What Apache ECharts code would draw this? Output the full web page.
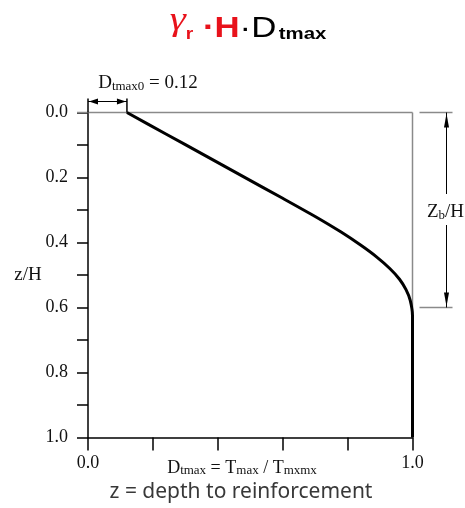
<!DOCTYPE html>
<html>
<head>
<meta charset="utf-8">
<script src="https://cdn.jsdelivr.net/npm/echarts@6/dist/echarts.min.js"></script>
<style>
  html, body { margin: 0; padding: 0; background: #fff; }
  #main { width: 465px; height: 508px; }
</style>
</head>
<body>
<div id="main"></div>
<script>
(function(){

	// curve: Dtmax against z/H
	var dtmaxValues = [0.12, 0.24, 0.36, 0.48, 0.60, 0.70, 0.78, 0.84, 0.89, 0.93, 0.96, 0.98, 0.993, 1.0, 1.0, 1.0];
	var depthValues = [0, 0.066, 0.132, 0.198, 0.264, 0.320, 0.368, 0.408, 0.445, 0.480, 0.513, 0.545, 0.578, 0.625, 0.66, 1.0];

	var xLabels = ["0.0", "1.0"];          // only the ends carry a label
	var yLabelStep = 0.2;                   // ticks every 0.1, labels every 0.2
	var dtmax0 = 0.12;
	var zbRatio = 0.6;

	var RED = "#e8121b";
	var SERIF = "Liberation Serif";
	var SANS = "Liberation Sans";
	var GREY = "#8a8a8a";

	var curve = [];
	for (var i = 0; i < depthValues.length; i++){
		curve.push([dtmaxValues[i], depthValues[i]]);
	}

	var chart = echarts.init(document.getElementById("main"));

	var option = {
		animation: false,
		backgroundColor: "#fff",
		grid: { left: 88, right: 52.5, top: 112.5, bottom: 70.5 },
		xAxis: {
			type: "value", min: 0, max: 1, interval: 0.2,
			position: "bottom",
			splitLine: { show: false },
			axisLine: { onZero: false, lineStyle: { color: "#000", width: 1.5 } },
			axisTick: { length: 13, lineStyle: { color: "#000", width: 1.5 } },
			axisLabel: {
				margin: 17, fontFamily: SERIF, fontSize: 18, color: "#111",
				formatter: function(v){
					if (v === 0) return xLabels[0];
					if (v === 1) return xLabels[1];
					return "";
				}
			}
		},
		yAxis: {
			type: "value", inverse: true, min: 0, max: 1, interval: 0.1,
			splitLine: { show: false },
			axisLine: { onZero: false, lineStyle: { color: "#000", width: 1.5 } },
			axisTick: { length: 11, lineStyle: { color: "#000", width: 1.5 } },
			axisLabel: {
				margin: 20, fontFamily: SERIF, fontSize: 18, color: "#111",
				formatter: function(v){
					var k = Math.round(v * 10);
					if (k % Math.round(yLabelStep * 10) !== 0) return "";
					return v.toFixed(1);
				}
			}
		},
		series: [{
			type: "line",
			data: curve,
			smooth: 0.25,
			symbol: "none",
			z: 3,
			lineStyle: { color: "#000", width: 3 }
		}]
	};
	chart.setOption(option);

	var px = function(x, z){
		return chart.convertToPixel({ xAxisIndex: 0, yAxisIndex: 0 }, [x, z]);
	};

	var p00 = px(0, 0);
	var p10 = px(1, 0);
	var pD0 = px(dtmax0, 0);
	var pZb = px(1, zbRatio);
	var x0 = p00[0], y0 = p00[1], x1 = p10[0], xd0 = pD0[0], yZb = pZb[1];

	var line = function(a, b, c, d, color, width, z){
		return {
			type: "line", z: z || 1, silent: true,
			shape: { x1: a, y1: b, x2: c, y2: d },
			style: { stroke: color, lineWidth: width }
		};
	};
	var tri = function(pts){
		return { type: "polygon", z: 2, silent: true, shape: { points: pts }, style: { fill: "#000" } };
	};

	var graphics = [];

	// grey frame on the top and right edge, down to Zb
	graphics.push(line(x0 - 11, y0, x1, y0, GREY, 1.5, 1));
	graphics.push(line(x1, y0, x1, yZb, GREY, 1.5, 1));

	// Dtmax0 dimension
	var ya = y0 - 11;
	graphics.push(line(x0, y0 - 14, x0, y0, "#000", 1.5, 2));
	graphics.push(line(xd0, y0 - 14, xd0, y0, "#000", 1.5, 2));
	graphics.push(line(x0, ya, xd0, ya, "#000", 1, 2));
	graphics.push(tri([[x0 + 1, ya], [x0 + 10, ya - 3], [x0 + 10, ya + 3]]));
	graphics.push(tri([[xd0 - 1, ya], [xd0 - 10, ya - 3], [xd0 - 10, ya + 3]]));
	graphics.push({
		type: "text", z: 2, silent: true,
		style: {
			x: 148, y: 78.5, align: "center", verticalAlign: "middle",
			text: "{m|D}{s|tmax0}{m| = 0.12}",
			rich: {
				m: { fontFamily: SERIF, fontSize: 19, lineHeight: 29, verticalAlign: "bottom", fill: "#111" },
				s: { fontFamily: SERIF, fontSize: 13, lineHeight: 13, verticalAlign: "bottom", fill: "#111" }
			}
		}
	});

	// Zb/H dimension
	var xz = x1 + 34;
	graphics.push(line(x1 + 7, y0, x1 + 40, y0, GREY, 1.5, 1));
	graphics.push(line(x1 + 7, yZb, x1 + 40, yZb, GREY, 1.5, 1));
	graphics.push(line(xz, y0, xz, 194, "#000", 1, 2));
	graphics.push(line(xz, 225, xz, yZb, "#000", 1, 2));
	graphics.push(tri([[xz, y0 + 1], [xz - 2.5, y0 + 15], [xz + 2.5, y0 + 15]]));
	graphics.push(tri([[xz, yZb - 1], [xz - 2.5, yZb - 15], [xz + 2.5, yZb - 15]]));
	graphics.push({
		type: "text", z: 2, silent: true,
		style: {
			x: xz - 1, y: 206.5, align: "center", verticalAlign: "middle",
			text: "{m|Z}{s|b}{m|/H}",
			rich: {
				m: { fontFamily: SERIF, fontSize: 19, lineHeight: 31, verticalAlign: "bottom", fill: "#111" },
				s: { fontFamily: SERIF, fontSize: 13, lineHeight: 13, verticalAlign: "bottom", fill: "#111" }
			}
		}
	});

	// axis names
	graphics.push({
		type: "text", silent: true,
		style: { x: 28, y: 275, align: "center", verticalAlign: "middle", text: "z/H",
			fontFamily: SERIF, fontSize: 19, fill: "#111" }
	});
	graphics.push({
		type: "text", silent: true,
		style: {
			x: 242, y: 464, align: "center", verticalAlign: "middle",
			text: "{m|D}{s|tmax}{m| = T}{s|max}{m| / T}{s|mxmx}",
			rich: {
				m: { fontFamily: SERIF, fontSize: 18, lineHeight: 27, verticalAlign: "bottom", fill: "#111" },
				s: { fontFamily: SERIF, fontSize: 13, lineHeight: 13, verticalAlign: "bottom", fill: "#111" }
			}
		}
	});
	graphics.push({
		type: "text", silent: true,
		style: { x: 241, y: 492, align: "center", verticalAlign: "middle",
			text: "z = depth to reinforcement", fontFamily: "Noto Sans", fontSize: 21, fill: "#383838" }
	});

	// title, drawn a little wider like the original
	graphics.push({
		type: "text", silent: true,
		x: 248, y: 21, scaleX: 1.2,
		style: {
			x: 0, y: 0, align: "center", verticalAlign: "middle",
			text: "{g|γ}{r|r}{d| ·}{h|H}{k|·D}{s|tmax}",
			rich: {
				g: { fontFamily: SERIF, fontStyle: "italic", fontSize: 34, lineHeight: 44, verticalAlign: "middle", fill: RED },
				r: { fontFamily: SANS, fontWeight: "bold", fontSize: 16, lineHeight: 36, verticalAlign: "bottom", fill: RED },
				d: { fontFamily: SANS, fontWeight: "bold", fontSize: 29, lineHeight: 44, verticalAlign: "bottom", fill: RED },
				h: { fontFamily: SANS, fontWeight: "bold", fontSize: 29, lineHeight: 44, verticalAlign: "bottom", fill: RED },
				k: { fontFamily: SANS, fontSize: 29, lineHeight: 44, verticalAlign: "bottom", fill: "#000" },
				s: { fontFamily: SANS, fontWeight: "bold", fontSize: 17, lineHeight: 17, padding: [0, 0, 0, 2], verticalAlign: "bottom", fill: "#000" }
			}
		}
	});

	chart.setOption({ graphic: graphics });

})();
</script>
</body>
</html>
